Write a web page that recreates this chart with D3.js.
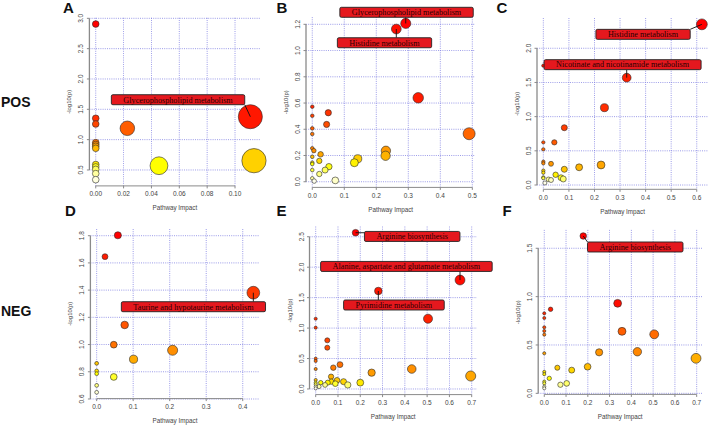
<!DOCTYPE html>
<html><head><meta charset="utf-8">
<script src="https://cdn.jsdelivr.net/npm/d3@7"></script>
<style>body{margin:0;background:#fff}svg{display:block}</style>
</head><body>
<svg id="chart" width="708" height="425"></svg>
<script>
// ---------------- DATA ----------------
// Panel A (POS)
const aImpact = [0,0,0,0,0,0,0,0,0,0,0,0,0.0227,0.0454,0.111,0.1136];
const aLogP   = [2.906,1.352,1.258,0.95,0.92,0.89,0.857,0.59,0.55,0.51,0.44,0.34,1.187,0.57,1.378,0.653];
const aLabelNames = ["Glycerophospholipid metabolism"];
const aLabelIdx   = [14];
const aXTicks = ["0.00","0.02","0.04","0.06","0.08","0.10"];
const aYTicks = ["0.5","1.0","1.5","2.0","2.5","3.0"];

// Panel B (POS)
const bImpact = [0,0,0,0,0,0.005,0,0,0,0,0,0.006,0.05,0.0448,0.026,0.0219,0.052,0.04,0.0219,0.0719,0.142,0.1315,0.23,0.229,0.331,0.49,0.2625,0.292];
const bLogP   = [0.572,0.503,0.407,0.364,0.255,0.237,0.19,0.145,0.135,0.089,0.026,0.005,0.526,0.437,0.209,0.159,0.115,0.089,0.059,0.0102,0.175,0.145,0.236,0.198,0.64,0.366,1.164,1.207];
const bLabelNames = ["Glycerophospholipid metabolism","Histidine metabolism"];
const bLabelIdx   = [27,26];
const bXTicks = ["0.0","0.1","0.2","0.3","0.4","0.5"];
const bYTicks = ["0.0","0.2","0.4","0.6","0.8","1.0","1.2"];

// Panel C (POS)
const cImpact = [0,0,0,0,0,0,0,0,0,0.006,0.02,0.03,0.03,0.043,0.048,0.069,0.078,0.082,0.082,0.14,0.2257,0.239,0.326,0.62];
const cLogP   = [1.746,0.624,0.522,0.341,0.317,0.21,0.18,0.112,0.1,0.03,0.083,0.073,0.31,0.624,0.15,0.107,0.088,0.838,0.23,0.259,0.293,1.131,1.57,2.35];
const cLabelNames = ["Histidine metabolism","Nicotinate and nicotinamide metabolism"];
const cLabelIdx   = [23,22];
const cXTicks = ["0.0","0.1","0.2","0.3","0.4","0.5","0.6"];
const cYTicks = ["0.0","0.5","1.0","1.5","2.0"];

// Panel D (NEG)
const dImpact = [0.058,0.0228,0.429,0.0767,0.0468,0.208,0.101,0.0468,0,0,0,0,0];
const dLogP   = [1.803,1.646,1.381,1.144,0.999,0.958,0.892,0.762,0.862,0.806,0.786,0.70,0.649];
const dLabelNames = ["Taurine and hypotaurine metabolism"];
const dLabelIdx   = [2];
const dXTicks = ["0.0","0.1","0.2","0.3","0.4"];
const dYTicks = ["0.6","0.8","1.0","1.2","1.4","1.6","1.8"];

// Panel E (NEG)
const eImpact = [0.179,0.6475,0.281,0.504,0,0,0.052,0.052,0,0,0,0.079,0.109,0.069,0.251,0.431,0.6955,0.0956,0.125,0.144,0.2,0.088,0.07,0.054,0.042,0.0225,0.015,0,0,0,0,0];
const eLogP   = [2.566,1.789,1.609,1.154,1.154,1.007,0.799,0.678,0.498,0.46,0.328,0.35,0.4,0.202,0.268,0.328,0.213,0.142,0.12,0.066,0.104,0.087,0.12,0.104,0.066,0.104,0.04,0.148,0.104,0.077,0.04,0.01];
const eLabelNames = ["Arginine biosynthesis","Alanine, aspartate and glutamate metabolism","Pyrimidine metabolism"];
const eLabelIdx   = [0,1,2];
const eXTicks = ["0.0","0.1","0.2","0.3","0.4","0.5","0.6","0.7"];
const eYTicks = ["0.0","0.5","1.0","1.5","2.0","2.5"];

// Panel F (NEG)
const fImpact = [0.179,0.337,0.029,0,0,0,0,0,0.357,0.505,0.4275,0.252,0.697,0,0.199,0.06,0.126,0,0,0.023,0,0,0.103,0.074,0,0];
const fLogP   = [1.627,0.931,0.869,0.827,0.779,0.683,0.645,0.607,0.641,0.61,0.43,0.424,0.362,0.414,0.275,0.265,0.24,0.222,0.198,0.155,0.121,0.103,0.103,0.089,0.069,0.052];
const fLabelNames = ["Arginine biosynthesis"];
const fLabelIdx   = [0];
const fXTicks = ["0.0","0.1","0.2","0.3","0.4","0.5","0.6","0.7"];
const fYTicks = ["0.0","0.5","1.0","1.5"];

const rowLabels = ["POS","NEG"];
const xTitle = "Pathway Impact";
const yTitle = "-log10(p)";

// ---------------- LAYOUT ----------------
const layout = [
  {letter:"A", data:[aImpact,aLogP,aLabelNames,aLabelIdx,aXTicks,aYTicks], box:[89.4,260.3,17.8,185.9], lx:63, ly:13, offs:[[-72.3,-17]]},
  {letter:"B", data:[bImpact,bLogP,bLabelNames,bLabelIdx,bXTicks,bYTicks], box:[306,475.4,17.1,187.4], lx:276.5, ly:12.5, offs:[[0.8,-11.1],[-11.8,13.7]]},
  {letter:"C", data:[cImpact,cLogP,cLabelNames,cLabelIdx,cXTicks,cYTicks], box:[537,708.2,18,189.3], lx:496.5, ly:13, offs:[[-58.8,10],[-4.1,-13]]},
  {letter:"D", data:[dImpact,dLogP,dLabelNames,dLabelIdx,dXTicks,dYTicks], box:[90.4,259.6,229,398.6], lx:65, ly:216, offs:[[-59.9,14]]},
  {letter:"E", data:[eImpact,eLogP,eLabelNames,eLabelIdx,eXTicks,eYTicks], box:[309.5,476.9,226.5,394.6], lx:276.5, ly:216, offs:[[56.6,3.7],[-53.6,-13.6],[15.6,14]]},
  {letter:"F", data:[fImpact,fLogP,fLabelNames,fLabelIdx,fXTicks,fYTicks], box:[538.2,702.1,229.9,394.4], lx:502.5, ly:216, offs:[[52,11]]}
];

// R heat.colors
function heatColors(n){
  const j = Math.floor(n/4), i = n - j, out = [];
  for(let k=0;k<i;k++){
    const h = i>1 ? (k/(i-1))*(1/6) : 0;
    out.push(d3.hsl(h*360,1,0.5).formatHex());
  }
  for(let k=0;k<j;k++){
    const s0 = 1-1/(2*j), s1 = 1/(2*j);
    const s = j>1 ? s0 + (s1-s0)*k/(j-1) : s0;
    out.push(d3.rgb(255,255,Math.round(255*(1-s))).formatHex());
  }
  return out;
}

const svg = d3.select("#chart");
svg.append("rect").attr("width",708).attr("height",425).attr("fill","#fff");

const SANS = "'Liberation Sans', Arial, Helvetica, sans-serif";
const SERIF = "'Liberation Serif', 'Times New Roman', serif";

layout.forEach(p => {
  const [impact, logp, names, idx, xt, yt] = p.data;
  const [bx0,bx1,by0,by1] = p.box;
  const xe = d3.extent(impact), ye = d3.extent(logp);
  const px = (xe[1]-xe[0])*0.04, py = (ye[1]-ye[0])*0.04;
  const x = d3.scaleLinear().domain([xe[0]-px, xe[1]+px]).range([bx0,bx1]);
  const y = d3.scaleLinear().domain([ye[0]-py, ye[1]+py]).range([by1,by0]);
  const xv = xt.map(Number), yv = yt.map(Number);
  const g = svg.append("g");

  // grid
  g.selectAll(".gv").data(xv).join("line")
    .attr("x1",d=>x(d)).attr("x2",d=>x(d)).attr("y1",by0).attr("y2",by1)
    .attr("stroke","#6f6fe0").attr("stroke-width",0.8).attr("stroke-dasharray","1,1.2").attr("opacity",0.85);
  g.selectAll(".gh").data(yv).join("line")
    .attr("y1",d=>y(d)).attr("y2",d=>y(d)).attr("x1",bx0).attr("x2",bx1)
    .attr("stroke","#6f6fe0").attr("stroke-width",0.8).attr("stroke-dasharray","1,1.2").attr("opacity",0.85);

  // axes (R style)
  const ax = g.append("g").attr("stroke","#8a8a8a").attr("stroke-width",1);
  ax.append("line").attr("x1",x(xv[0])).attr("x2",x(xv[xv.length-1])).attr("y1",by1).attr("y2",by1);
  ax.selectAll(".tx").data(xv).join("line").attr("x1",d=>x(d)).attr("x2",d=>x(d)).attr("y1",by1).attr("y2",by1+2.5);
  ax.append("line").attr("y1",y(yv[0])).attr("y2",y(yv[yv.length-1])).attr("x1",bx0).attr("x2",bx0).attr("stroke-width",1.3);
  ax.selectAll(".ty").data(yv).join("line").attr("y1",d=>y(d)).attr("y2",d=>y(d)).attr("x1",bx0).attr("x2",bx0-2.5);

  g.selectAll(".xl").data(xt).join("text")
    .attr("x",d=>x(+d)).attr("y",by1+8).attr("text-anchor","middle").attr("dominant-baseline","central")
    .attr("font-family",SANS).attr("font-size",6.5).attr("fill","#444").text(d=>d);
  g.selectAll(".yl").data(yt).join("text")
    .attr("transform",d=>`translate(${bx0-8.5},${y(+d)}) rotate(-90)`)
    .attr("text-anchor","middle").attr("dominant-baseline","central")
    .attr("font-family",SANS).attr("font-size",6.5).attr("fill","#444").text(d=>d);

  g.append("text").attr("x",(bx0+bx1)/2).attr("y",by1+22).attr("text-anchor","middle").attr("dominant-baseline","central")
    .attr("font-family",SANS).attr("font-size",6.3).attr("fill","#444").text(xTitle);
  g.append("text").attr("transform",`translate(${bx0-20},${(by0+by1)/2}) rotate(-90)`)
    .attr("text-anchor","middle").attr("dominant-baseline","central")
    .attr("font-family",SANS).attr("font-size",6).attr("fill","#444").text(yTitle);

  // circles: sorted by -log10(p) descending, heat colours by rank, radius from sqrt(impact)
  const order = d3.range(impact.length).sort((a,b)=>logp[b]-logp[a]);
  const cols = heatColors(impact.length);
  const sq = impact.map(Math.sqrt);
  let mn = d3.min(sq), mxv = d3.max(sq);
  const maxR = (mxv-mn)/40, minR = (mxv-mn)/160;
  const radius = v => {
    const ru = minR + (maxR-minR)*(Math.sqrt(v)-mn)/(mxv-mn);
    return x(x.domain()[0]+ru) - x(x.domain()[0]);
  };
  const pts = order.map((k,r)=>({k, c:cols[r]}));
  g.selectAll(".pt").data(pts).join("circle")
    .attr("cx",d=>x(impact[d.k])).attr("cy",d=>y(logp[d.k]))
    .attr("r",d=>radius(impact[d.k])+0.4)
    .attr("fill",d=>d.c).attr("stroke","#2a2a2a").attr("stroke-width",0.6);

  // labels
  names.forEach((nm,li)=>{
    const k = idx[li];
    const cx = x(impact[k]), cy = y(logp[k]);
    const [dx,dy] = p.offs[li];
    const t = g.append("text").attr("font-family",SERIF).attr("font-size",8.2).attr("fill","#2a0000")
      .attr("text-anchor","middle").attr("dominant-baseline","central")
      .attr("x",cx+dx).attr("y",cy+dy+0.3).text(nm);
    const tw = t.node().getComputedTextLength();
    const w = tw + 24, h = 10;
    const rx0 = cx+dx-w/2, ry0 = cy+dy-h/2;
    const nx = Math.max(rx0, Math.min(cx, rx0+w)), ny = Math.max(ry0, Math.min(cy, ry0+h));
    g.insert("line", function(){return t.node();})
      .attr("x1",cx).attr("y1",cy).attr("x2",nx).attr("y2",ny).attr("stroke","#111").attr("stroke-width",0.9);
    g.insert("rect", function(){return t.node();})
      .attr("x",rx0).attr("y",ry0).attr("width",w).attr("height",h).attr("rx",1.5)
      .attr("fill","#e5181e").attr("stroke","#222").attr("stroke-width",0.9);
  });

  svg.append("text").attr("x",p.lx).attr("y",p.ly).attr("font-family",SANS).attr("font-weight","bold")
    .attr("font-size",15).attr("fill","#111").text(p.letter);
});

svg.selectAll(".rowlab").data(rowLabels).join("text")
  .attr("x",1).attr("y",(d,i)=> i===0 ? 106.5 : 315.5)
  .attr("font-family",SANS).attr("font-weight","bold").attr("font-size",14).attr("fill","#111").text(d=>d);
</script>
</body></html>
